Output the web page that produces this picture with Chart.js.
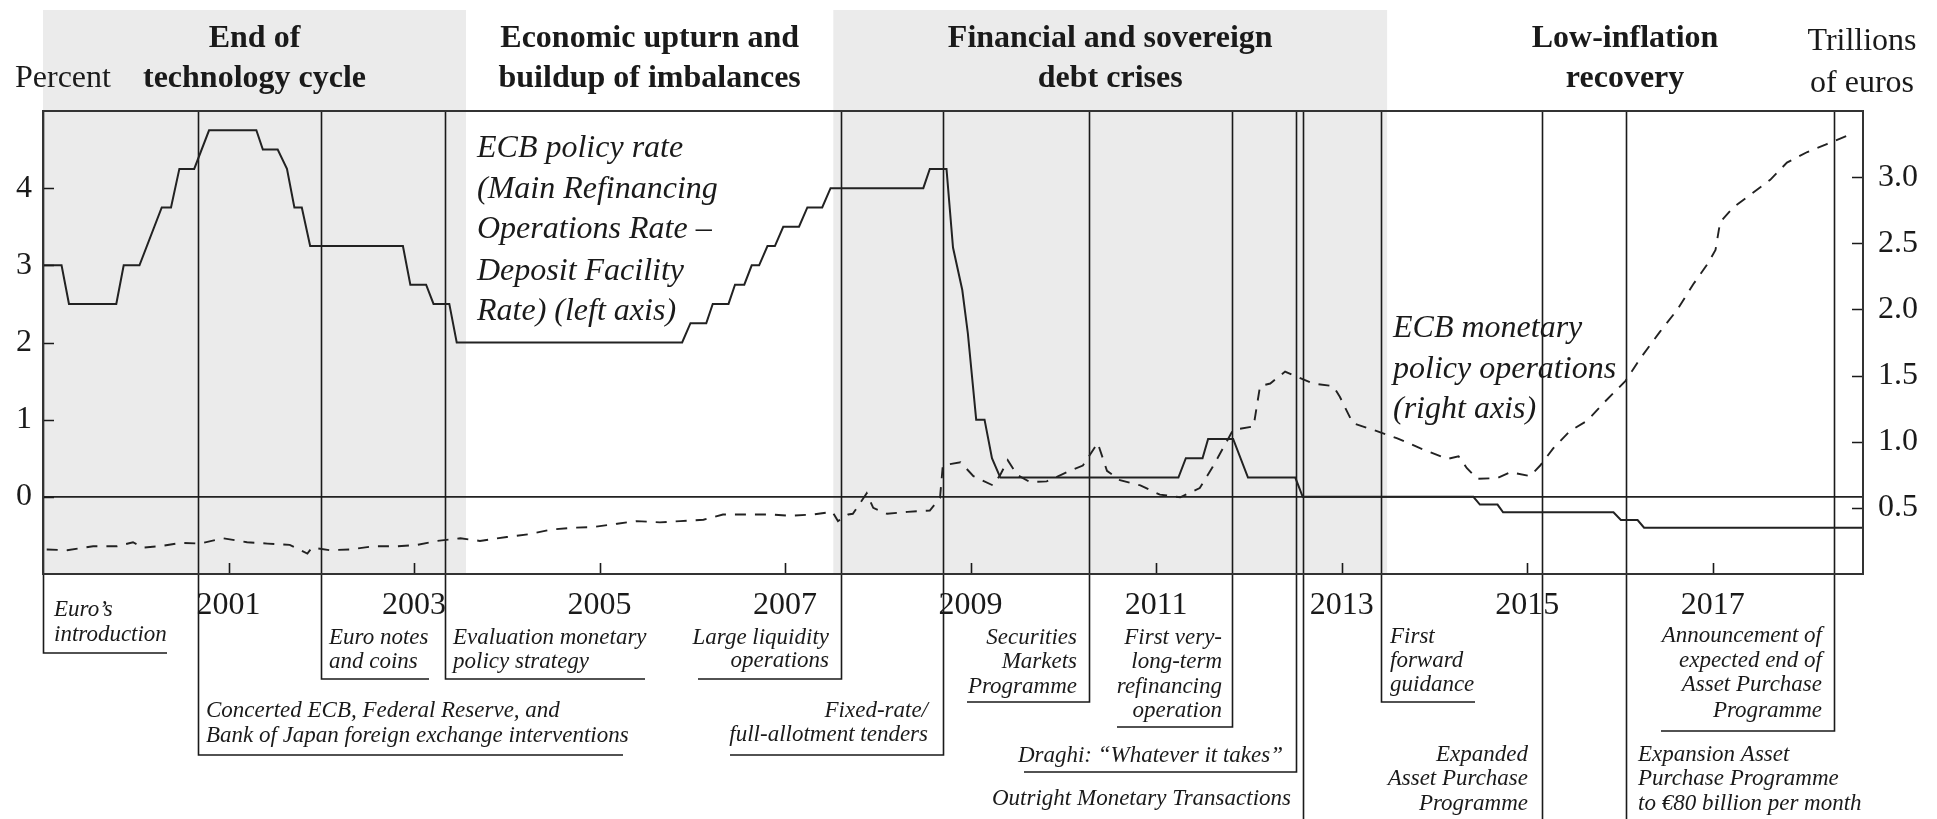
<!DOCTYPE html>
<html>
<head>
<meta charset="utf-8">
<script src="https://cdn.jsdelivr.net/npm/chart.js@4.4.0/dist/chart.umd.min.js"></script>
<style>
html,body{margin:0;padding:0;background:#fff;}
#wrap{width:1937px;height:819px;position:relative;}
</style>
</head>
<body>
<div id="wrap"><canvas id="c" width="1937" height="819"></canvas></div>
<script>
// ---------------- DATA ----------------
const rateYears = [1999.00,1999.20,1999.28,1999.79,1999.87,2000.04,2000.28,2000.38,2000.47,2000.63,2000.79,2001.30,2001.37,2001.53,2001.63,2001.71,2001.79,2001.88,2002.88,2002.96,2003.13,2003.21,2003.38,2003.46,2005.89,2005.98,2006.15,2006.22,2006.39,2006.46,2006.56,2006.64,2006.72,2006.81,2006.89,2006.98,2007.15,2007.24,2007.40,2007.49,2008.49,2008.56,2008.74,2008.81,2008.91,2008.97,2009.06,2009.15,2009.23,2009.32,2011.24,2011.32,2011.50,2011.56,2011.83,2011.99,2012.50,2012.58,2014.42,2014.49,2014.68,2014.74,2015.93,2016.01,2016.19,2016.26,2018.62];
const rateValues = [3.0,3.0,2.5,2.5,3.0,3.0,3.75,3.75,4.25,4.25,4.75,4.75,4.5,4.5,4.25,3.75,3.75,3.25,3.25,2.75,2.75,2.5,2.5,2.0,2.0,2.25,2.25,2.5,2.5,2.75,2.75,3.0,3.0,3.25,3.25,3.5,3.5,3.75,3.75,4.0,4.0,4.25,4.25,3.23,2.68,2.12,1.0,1.0,0.5,0.25,0.25,0.5,0.5,0.75,0.75,0.25,0.25,0.0,0.0,-0.1,-0.1,-0.2,-0.2,-0.3,-0.3,-0.4,-0.4];

const opsYears = [1999.04,1999.26,1999.54,1999.80,1999.97,2000.08,2000.26,2000.48,2000.69,2000.94,
  2001.20,2001.42,2001.66,2001.85,2001.90,2002.09,2002.31,2002.56,2002.82,2003.03,
  2003.25,2003.50,2003.71,2004.00,2004.23,2004.47,2004.71,2004.93,2005.19,2005.40,
  2005.65,2005.87,2006.12,2006.33,2006.59,2006.84,2007.05,2007.30,2007.51,2007.57,
  2007.68,2007.73,2007.88,2007.95,2008.10,2008.32,2008.56,2008.67,2008.70,2008.89,
  2009.03,2009.24,2009.32,2009.40,2009.50,2009.64,2009.82,2010.04,2010.21,2010.37,
  2010.47,2010.61,2010.83,2011.04,2011.26,2011.47,2011.61,2011.83,2012.05,2012.12,
  2012.23,2012.39,2012.52,2012.69,2012.91,2012.98,2013.12,2013.38,2013.60,2013.85,
  2014.14,2014.26,2014.35,2014.46,2014.68,2014.82,2015.03,2015.14,2015.28,2015.46,
  2015.65,2015.82,2016.06,2016.22,2016.43,2016.62,2016.79,2016.95,2017.03,2017.08,
  2017.22,2017.43,2017.62,2017.80,2018.02,2018.23,2018.51];
const opsValues = [0.185,0.18,0.21,0.21,0.24,0.20,0.21,0.235,0.23,0.27,
  0.24,0.23,0.22,0.155,0.20,0.18,0.185,0.21,0.21,0.22,
  0.25,0.27,0.25,0.28,0.30,0.335,0.35,0.355,0.38,0.40,
  0.39,0.40,0.41,0.45,0.45,0.45,0.44,0.45,0.47,0.40,
  0.45,0.455,0.61,0.50,0.455,0.47,0.48,0.575,0.82,0.845,
  0.74,0.67,0.75,0.86,0.75,0.695,0.70,0.77,0.82,0.99,
  0.78,0.71,0.67,0.60,0.58,0.65,0.81,1.09,1.115,1.42,
  1.44,1.53,1.49,1.44,1.42,1.34,1.14,1.08,1.025,0.95,
  0.87,0.89,0.80,0.72,0.725,0.77,0.74,0.82,0.95,1.08,
  1.16,1.29,1.46,1.63,1.83,2.00,2.19,2.35,2.45,2.66,
  2.77,2.88,2.98,3.11,3.19,3.25,3.33];

const xTickYears = [2001,2003,2005,2007,2009,2011,2013,2015,2017];
const leftTickValues = [0,1,2,3,4];
const rightTickValues = [0.5,1.0,1.5,2.0,2.5,3.0];

const periodBounds = [1999.0,2003.56,2007.52,2013.49,2018.62];
const periodTitles = [["End of","technology cycle"],["Economic upturn and","buildup of imbalances"],["Financial and sovereign","debt crises"],["Low-inflation","recovery"]];
const periodShaded = [true,false,true,false];

const eventYears = [1999.0,2000.67,2002.0,2003.33,2007.60,2008.70,2010.28,2011.82,2012.51,2012.58,2013.42,2015.16,2016.07,2018.31];
const eventTexts = [
  ["Euro’s","introduction"],
  ["Concerted ECB, Federal Reserve, and","Bank of Japan foreign exchange interventions"],
  ["Euro notes","and coins"],
  ["Evaluation monetary","policy strategy"],
  ["Large liquidity","operations"],
  ["Fixed-rate/","full-allotment tenders"],
  ["Securities","Markets","Programme"],
  ["First very-","long-term","refinancing","operation"],
  ["Draghi: “Whatever it takes”"],
  ["Outright Monetary Transactions"],
  ["First","forward","guidance"],
  ["Expanded","Asset Purchase","Programme"],
  ["Expansion Asset","Purchase Programme","to €80 billion per month"],
  ["Announcement of","expected end of","Asset Purchase","Programme"]
];

// ---------------- LAYOUT (pixels) ----------------
const eventLayout = [
  {bottom:653, barTo:167,  align:'left',  tx:54,   ys:[616,641]},
  {bottom:755, barTo:623,  align:'left',  tx:206,  ys:[717,742]},
  {bottom:679, barTo:429,  align:'left',  tx:329,  ys:[644,668]},
  {bottom:679, barTo:645,  align:'left',  tx:453,  ys:[644,668]},
  {bottom:679, barTo:698,  align:'right', tx:829,  ys:[644,667]},
  {bottom:755, barTo:730,  align:'right', tx:928,  ys:[717,741]},
  {bottom:702, barTo:967,  align:'right', tx:1077, ys:[644,668,693]},
  {bottom:727, barTo:1117, align:'right', tx:1222, ys:[644,668,693,717]},
  {bottom:772, barTo:1024, align:'right', tx:1283, ys:[762]},
  {bottom:819, barTo:null, align:'right', tx:1291, ys:[805]},
  {bottom:702, barTo:1475, align:'left',  tx:1390, ys:[643,667,691]},
  {bottom:819, barTo:null, align:'right', tx:1528, ys:[761,785,810]},
  {bottom:819, barTo:null, align:'left',  tx:1638, ys:[761,785,810]},
  {bottom:731, barTo:1661, align:'right', tx:1822, ys:[642,667,691,717]}
];
const INK = '#1a1a1a';
const SERIF = "'Liberation Serif', 'Times New Roman', serif";

function drawText(ctx, s, x, y, font, align){
  ctx.save();
  ctx.font = font; ctx.textAlign = align; ctx.textBaseline = 'alphabetic';
  ctx.fillStyle = INK; ctx.fillText(s, x, y);
  ctx.restore();
}

const decor = {
  id: 'decor',
  beforeDraw(chart){
    const ctx = chart.ctx, ca = chart.chartArea, xs = chart.scales.x;
    ctx.save();
    ctx.fillStyle = '#fff'; ctx.fillRect(0,0,chart.width,chart.height);
    ctx.fillStyle = '#ebebeb';
    for (let i=0;i<periodTitles.length;i++){
      if (!periodShaded[i]) continue;
      const x0 = xs.getPixelForValue(periodBounds[i]), x1 = xs.getPixelForValue(periodBounds[i+1]);
      ctx.fillRect(x0, 10, x1-x0, ca.bottom-10);
    }
    ctx.restore();
  },
  beforeDatasetsDraw(chart){
    const ctx = chart.ctx, ca = chart.chartArea, xs = chart.scales.x;
    ctx.save();
    ctx.strokeStyle = INK; ctx.lineWidth = 1.6;
    eventYears.forEach((yr,i)=>{
      const L = eventLayout[i];
      const x = Math.round(xs.getPixelForValue(yr)) + 0.5;
      ctx.beginPath();
      ctx.moveTo(x, ca.top); ctx.lineTo(x, L.bottom);
      if (L.barTo !== null) ctx.lineTo(L.barTo, L.bottom);
      ctx.stroke();
    });
    ctx.restore();
  },
  afterDatasetsDraw(chart){
    const ctx = chart.ctx, ca = chart.chartArea, xs = chart.scales.x, yl = chart.scales.y, yr = chart.scales.y1;
    ctx.save();
    ctx.strokeStyle = INK; ctx.lineWidth = 1.6;
    // inward tick marks
    ctx.beginPath();
    leftTickValues.forEach(v=>{ const y = Math.round(yl.getPixelForValue(v))+0.5; ctx.moveTo(ca.left, y); ctx.lineTo(ca.left+11, y); });
    rightTickValues.forEach(v=>{ const y = Math.round(yr.getPixelForValue(v))+0.5; ctx.moveTo(ca.right-11, y); ctx.lineTo(ca.right, y); });
    xTickYears.forEach(v=>{ const x = Math.round(xs.getPixelForValue(v))+0.5; ctx.moveTo(x, ca.bottom); ctx.lineTo(x, ca.bottom-11); });
    ctx.stroke();
    // frame
    ctx.strokeStyle = '#333'; ctx.lineWidth = 2;
    ctx.strokeRect(ca.left, ca.top, ca.right-ca.left, ca.bottom-ca.top);
    ctx.restore();

    // headers
    const hb = 'bold 32px ' + SERIF;
    for (let i=0;i<periodTitles.length;i++){
      const cx = (xs.getPixelForValue(periodBounds[i]) + xs.getPixelForValue(periodBounds[i+1]))/2;
      drawText(ctx, periodTitles[i][0], cx, 47, hb, 'center');
      drawText(ctx, periodTitles[i][1], cx, 87, hb, 'center');
    }
    drawText(ctx, 'Percent', 15, 87, '32px ' + SERIF, 'left');
    drawText(ctx, 'Trillions', 1862, 50, '32px ' + SERIF, 'center');
    drawText(ctx, 'of euros', 1862, 92, '32px ' + SERIF, 'center');

    // series labels inside plot
    const li = 'italic 32px ' + SERIF;
    const rl = ['ECB policy rate','(Main Refinancing','Operations Rate –','Deposit Facility','Rate) (left axis)'];
    const rlY = [157,198,238,280,320];
    rl.forEach((s,i)=>drawText(ctx, s, 477, rlY[i], li, 'left'));
    const ol = ['ECB monetary','policy operations','(right axis)'];
    const olY = [337,378,418];
    ol.forEach((s,i)=>drawText(ctx, s, 1393, olY[i], li, 'left'));

    // event annotations
    const fi = 'italic 23px ' + SERIF;
    eventTexts.forEach((lines,i)=>{
      const L = eventLayout[i];
      lines.forEach((s,j)=>drawText(ctx, s, L.tx, L.ys[j], fi, L.align));
    });
  }
};

const tickFont = {family: SERIF, size: 32};

new Chart(document.getElementById('c'), {
  type: 'line',
  data: {
    datasets: [
      {
        label: 'ECB policy rate (left axis)',
        data: rateYears.map((x,i)=>({x:x, y:rateValues[i]})),
        yAxisID: 'y',
        borderColor: '#222', borderWidth: 2,
        pointRadius: 0, tension: 0, fill: false
      },
      {
        label: 'ECB monetary policy operations (right axis)',
        data: opsYears.map((x,i)=>({x:x, y:opsValues[i]})),
        yAxisID: 'y1',
        borderColor: '#222', borderWidth: 1.9, borderDash: [11,9],
        pointRadius: 0, tension: 0, fill: false
      }
    ]
  },
  options: {
    responsive: false,
    animation: false,
    devicePixelRatio: 1,
    layout: {padding: {top: 111, left: 0, right: 0, bottom: 0}},
    plugins: {legend: {display: false}, tooltip: {enabled: false}},
    scales: {
      x: {
        type: 'linear', position: 'bottom', min: 1999, max: 2018.62,
        afterBuildTicks: s => { s.ticks = xTickYears.map(v=>({value:v})); },
        afterFit: s => { s.height = 245; },
        grid: {display: false, drawTicks: false},
        border: {display: false},
        ticks: {callback: v => String(v), font: tickFont, color: INK, padding: 12, maxRotation: 0, autoSkip: false}
      },
      y: {
        position: 'left', min: -1, max: 5,
        afterBuildTicks: s => { s.ticks = leftTickValues.map(v=>({value:v})); },
        afterFit: s => { s.width = 43; },
        grid: {drawTicks: false, color: c => (c.tick && c.tick.value === 0) ? '#222' : 'rgba(0,0,0,0)', lineWidth: 1.8},
        border: {display: false},
        ticks: {callback: v => String(v), font: tickFont, color: INK, padding: 11}
      },
      y1: {
        position: 'right', min: 0, max: 3.5,
        afterBuildTicks: s => { s.ticks = rightTickValues.map(v=>({value:v})); },
        afterFit: s => { s.width = 74; },
        grid: {display: false, drawTicks: false},
        border: {display: false},
        ticks: {callback: v => Number(v).toFixed(1), font: tickFont, color: INK, padding: 15}
      }
    }
  },
  plugins: [decor]
});
</script>
</body>
</html>
